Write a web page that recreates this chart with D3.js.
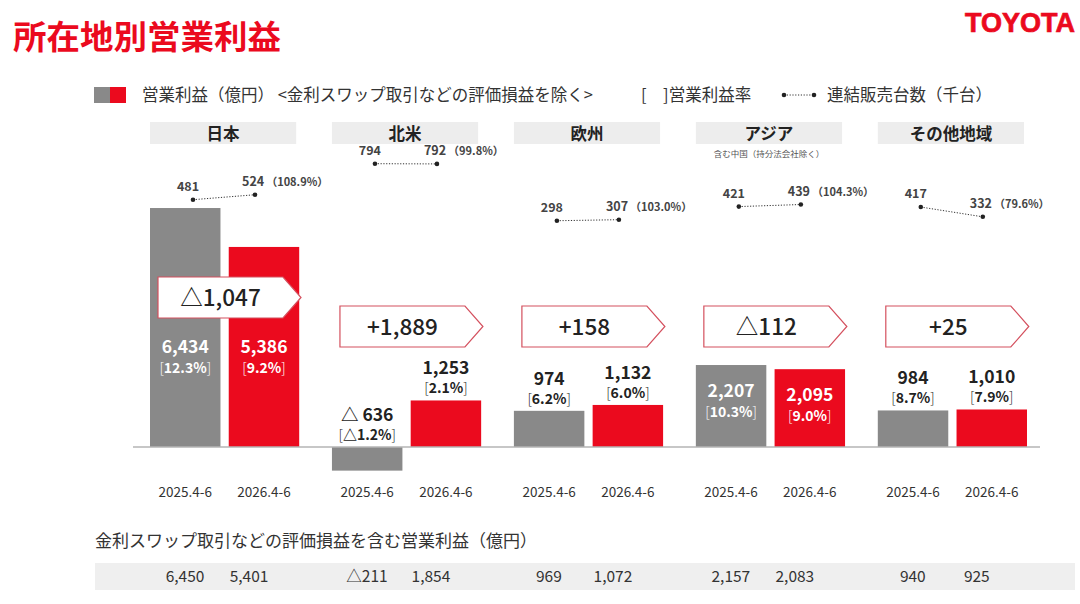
<!DOCTYPE html>
<html>
<head>
<meta charset="utf-8">
<script src="https://cdn.jsdelivr.net/npm/d3@7"></script>
<style>
  body { margin: 0; background: #fff; }
  text { font-family: "Noto Sans CJK JP", "Noto Sans", sans-serif; }
</style>
</head>
<body>
<script>
var regions = ['日本', '北米', '欧州', 'アジア', 'その他地域'];
var periods = ['2025.4-6', '2026.4-6'];

// 営業利益 (億円), excluding swap valuation
var profit2025 = [6434, -636, 974, 2207, 984];
var profit2026 = [5386, 1253, 1132, 2095, 1010];
// 営業利益率 (%)
var margin2025 = [12.3, -1.2, 6.2, 10.3, 8.7];
var margin2026 = [9.2, 2.1, 6.0, 9.0, 7.9];
// 増減 as printed
var changes = [-1047, 1889, 158, -112, 25];
// 連結販売台数 (千台)
var units2025 = [481, 794, 298, 421, 417];
var units2026 = [524, 792, 307, 439, 332];
var unitsRatio = ['108.9%', '99.8%', '103.0%', '104.3%', '79.6%'];
// 金利スワップ取引などの評価損益を含む営業利益
var inclSwap2025 = [6450, -211, 969, 2157, 940];
var inclSwap2026 = [5401, 1854, 1072, 2083, 925];

var width = 1080, height = 604;
var RED = '#eb0a1e', GRAY = '#898989', INK = '#222';

var svg = d3.select('body').append('svg')
    .attr('width', width)
    .attr('height', height);

var fmt = d3.format(',');
function tri(v) { return v < 0 ? '△' + fmt(-v) : fmt(v); }

var data = regions.map(function(r, i) {
  return {
    region: r,
    bars: [
      {period: periods[0], value: profit2025[i], margin: margin2025[i], color: GRAY},
      {period: periods[1], value: profit2026[i], margin: margin2026[i], color: RED}
    ],
    units: [units2025[i], units2026[i]],
    ratio: unitsRatio[i],
    change: changes[i],
    incl: [inclSwap2025[i], inclSwap2026[i]]
  };
});

var x0 = d3.scaleBand().domain(regions).range([150, 1027]).paddingInner(0.18);
var x1 = d3.scaleBand().domain(periods).range([0, x0.bandwidth()]).paddingInner(0.105);
var y = d3.scaleLinear().domain([0, 7000]).range([447, 187]);
var yUnits = d3.scaleLinear().domain([0, 800]).range([255, 163]);
// the unit dots and the bottom table sit a little off the bar centres
var xDot = d3.scalePoint().domain(periods).range([43, 105]);
var xTable = d3.scalePoint().domain(periods).range([35, 99]);

// title + logo
svg.append('text')
    .attr('x', 13).attr('y', 49)
    .attr('fill', RED)
    .style('font-size', '33.5px').style('font-weight', 700)
    .text('所在地別営業利益');

svg.append('text')
    .attr('x', 1075).attr('y', 32)
    .attr('text-anchor', 'end')
    .attr('fill', RED)
    .attr('stroke', RED).attr('stroke-width', 0.7)
    .style('font-family', '"Liberation Sans", Arial, sans-serif')
    .style('font-size', '27px').style('font-weight', 700)
    .text('TOYOTA');

// legend
var legend = svg.append('g').attr('class', 'legend');
legend.append('rect').attr('x', 94).attr('y', 87).attr('width', 16).attr('height', 16).attr('fill', GRAY);
legend.append('rect').attr('x', 110).attr('y', 87).attr('width', 16).attr('height', 16).attr('fill', RED);
legend.append('text').attr('x', 142).attr('y', 101)
    .attr('fill', '#333').style('font-size', '16.5px')
    .text('営業利益（億円） <金利スワップ取引などの評価損益を除く>');
legend.append('text').attr('x', 641).attr('y', 101)
    .attr('fill', '#333').style('font-size', '16.5px')
    .text('[\u3000]営業利益率');
legend.append('line').attr('x1', 784).attr('x2', 814).attr('y1', 95).attr('y2', 95)
    .attr('stroke', '#333').attr('stroke-dasharray', '1.2,1.6');
legend.selectAll('circle').data([784, 814]).enter().append('circle')
    .attr('cx', function(d) { return d; }).attr('cy', 95).attr('r', 2.3).attr('fill', INK);
legend.append('text').attr('x', 827).attr('y', 101)
    .attr('fill', '#333').style('font-size', '16.5px')
    .text('連結販売台数（千台）');

// bottom table background, under the region groups
svg.append('text')
    .attr('x', 95).attr('y', 547)
    .attr('fill', '#333')
    .style('font-size', '17px')
    .text('金利スワップ取引などの評価損益を含む営業利益（億円）');
svg.append('rect')
    .attr('x', 95).attr('y', 563)
    .attr('width', 980).attr('height', 27)
    .attr('fill', '#efefef');

var groups = svg.selectAll('g.region')
    .data(data)
  .enter().append('g')
    .attr('class', 'region')
    .attr('transform', function(d) { return 'translate(' + x0(d.region) + ',0)'; });

// region headers
groups.append('rect')
    .attr('x', 0).attr('y', 122)
    .attr('width', x0.bandwidth() - 3).attr('height', 22)
    .attr('fill', '#ededed');
groups.append('text')
    .attr('x', (x0.bandwidth() - 3) / 2).attr('y', 139.5)
    .attr('text-anchor', 'middle')
    .attr('fill', INK)
    .style('font-size', '16.5px').style('font-weight', 700)
    .text(function(d) { return d.region; });

groups.filter(function(d) { return d.region === 'アジア'; })
  .append('text')
    .attr('x', (x0.bandwidth() - 3) / 2).attr('y', 157)
    .attr('text-anchor', 'middle')
    .attr('fill', '#555')
    .style('font-size', '8.5px')
    .text('含む中国（持分法会社除く）');

// bars
groups.selectAll('rect.bar')
    .data(function(d) { return d.bars; })
  .enter().append('rect')
    .attr('class', 'bar')
    .attr('x', function(d) { return x1(d.period); })
    .attr('y', function(d) { return y(Math.max(0, d.value)); })
    .attr('width', x1.bandwidth())
    .attr('height', function(d) { return Math.abs(y(d.value) - y(0)); })
    .attr('fill', function(d) { return d.color; });

// baseline
svg.append('line')
    .attr('x1', 133).attr('x2', 1040)
    .attr('y1', y(0)).attr('y2', y(0))
    .attr('stroke', '#b4b4b4').attr('stroke-width', 1.5);

// bar value labels: inside for big bars, above otherwise
function inside(d) { return d.value > 2000; }
var labels = groups.selectAll('g.lab')
    .data(function(d) { return d.bars; })
  .enter().append('g')
    .attr('class', 'lab')
    .attr('transform', function(d) {
      var cx = x1(d.period) + x1.bandwidth() / 2;
      var top = y(Math.max(0, d.value));
      var base = inside(d) ? Math.max(top + 32, 353) : top - 26;
      return 'translate(' + cx + ',' + base + ')';
    });

labels.append('text')
    .attr('text-anchor', 'middle')
    .attr('fill', function(d) { return inside(d) ? '#fff' : INK; })
    .style('font-size', '17.5px').style('font-weight', 700)
    .text(function(d) { return d.value < 0 ? '△ ' + fmt(-d.value) : fmt(d.value); });

var pct = labels.append('text')
    .attr('y', function(d) { return inside(d) ? 20 : 19; })
    .attr('text-anchor', 'middle')
    .attr('fill', function(d) { return inside(d) ? '#fff' : INK; })
    .style('font-size', '14px');
pct.append('tspan').style('font-weight', 300).text('[');
pct.append('tspan').style('font-weight', 700)
    .text(function(d) { return (d.margin < 0 ? '△' : '') + Math.abs(d.margin).toFixed(1) + '%'; });
pct.append('tspan').style('font-weight', 300).text(']');

// change callouts
var cw = 143, ch = 41, tip = 18;
function calloutTop(d) {
  return d3.min(d.bars, function(b) { return b.value; }) > 4000 ? 277 : 306;
}
groups.append('path')
    .attr('d', function(d) {
      var l = 8, t = calloutTop(d);
      return 'M' + l + ',' + t + 'H' + (l + cw - tip) + 'L' + (l + cw) + ',' + (t + ch / 2) +
             'L' + (l + cw - tip) + ',' + (t + ch) + 'H' + l + 'Z';
    })
    .attr('fill', '#fff')
    .attr('stroke', '#d4505e').attr('stroke-width', 1.2);
groups.append('text')
    .attr('x', 8 + (cw - tip) / 2)
    .attr('y', function(d) { return calloutTop(d) + 29; })
    .attr('text-anchor', 'middle')
    .attr('fill', INK)
    .style('font-size', '22.5px').style('font-weight', 500)
    .text(function(d) { return d.change < 0 ? tri(d.change) : '+' + fmt(d.change); });

// sales volume dots
groups.append('line')
    .attr('x1', xDot(periods[0])).attr('x2', xDot(periods[1]))
    .attr('y1', function(d) { return yUnits(d.units[0]); })
    .attr('y2', function(d) { return yUnits(d.units[1]); })
    .attr('stroke', '#333').attr('stroke-dasharray', '1.2,1.6');
groups.selectAll('circle')
    .data(function(d) { return d.units.map(function(u, i) { return {u: u, p: periods[i]}; }); })
  .enter().append('circle')
    .attr('cx', function(d) { return xDot(d.p); })
    .attr('cy', function(d) { return yUnits(d.u); })
    .attr('r', 2.3)
    .attr('fill', INK);
groups.append('text')
    .attr('x', xDot(periods[0]) - 5)
    .attr('y', function(d) { return yUnits(d.units[0]) - 9; })
    .attr('text-anchor', 'middle')
    .attr('fill', '#444')
    .style('font-size', '12.5px').style('font-weight', 700)
    .text(function(d) { return d.units[0]; });
var u2 = groups.append('text')
    .attr('x', xDot(periods[1]) - 13)
    .attr('y', function(d) { return yUnits(d.units[1]) - 9; })
    .attr('fill', '#444')
    .style('font-size', '12.5px').style('font-weight', 700);
u2.append('tspan').text(function(d) { return d.units[1]; });
u2.append('tspan').attr('dx', 2).style('font-size', '11px')
    .text(function(d) { return '（' + d.ratio + '）'; });

// period labels
groups.selectAll('text.period')
    .data(function(d) { return d.bars; })
  .enter().append('text')
    .attr('class', 'period')
    .attr('x', function(d) { return x1(d.period) + x1.bandwidth() / 2; })
    .attr('y', 497)
    .attr('text-anchor', 'middle')
    .attr('fill', '#333')
    .style('font-size', '13.5px')
    .text(function(d) { return d.period; });

// bottom table values
groups.selectAll('text.incl')
    .data(function(d) { return d.incl.map(function(v, i) { return {v: v, p: periods[i]}; }); })
  .enter().append('text')
    .attr('class', 'incl')
    .attr('x', function(d) { return xTable(d.p); })
    .attr('y', 582)
    .attr('text-anchor', 'middle')
    .attr('fill', '#333')
    .style('font-size', '15.5px')
    .text(function(d) { return tri(d.v); });
</script>
</body>
</html>
